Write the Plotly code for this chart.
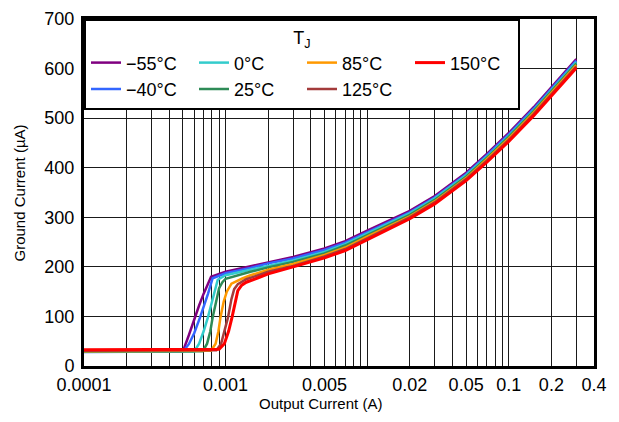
import plotly.graph_objects as go

# ---- data (Output current in A, ground current in uA) ----
x_hi = [0.002, 0.003, 0.005, 0.007, 0.01, 0.02, 0.03, 0.05, 0.07, 0.1, 0.15, 0.2, 0.3]

x_m55 = [0.0001, 0.0003, 0.0005, 0.00055, 0.0006, 0.00065, 0.0007, 0.00079, 0.001, 0.0015]
y_m55 = [29, 29.5, 30, 62, 95, 122, 146, 180, 190, 201]
yh_m55 = [210, 220, 237, 252, 273, 313, 343, 390, 428, 470, 522, 562, 619]

x_m40 = [0.0001, 0.0003, 0.0005, 0.00055, 0.0006, 0.00066, 0.0007, 0.00075, 0.00081, 0.001, 0.0015]
y_m40 = [28, 28.5, 29, 44, 66, 98, 118, 145, 177, 187, 198]
yh_m40 = [207, 217, 234, 249, 270, 310, 340, 387, 425, 467, 519, 559, 616]

x_0 = [0.0001, 0.0003, 0.0006, 0.00065, 0.0007, 0.00075, 0.0008, 0.00085, 0.00088, 0.001, 0.0015]
y_0 = [28.5, 29, 29.5, 45, 70, 98, 130, 160, 174, 183, 194]
yh_0 = [203, 213, 230, 246, 267, 308, 338, 385, 422, 464, 516, 556, 613]

x_25 = [0.0001, 0.0003, 0.00069, 0.00074, 0.00078, 0.00081, 0.00086, 0.0009, 0.00095, 0.001, 0.0015]
y_25 = [29, 29.5, 30, 45, 70, 98, 135, 157, 169, 176, 190]
yh_25 = [199, 210, 227, 243, 264, 305, 335, 382, 420, 462, 514, 554, 610]

x_85 = [0.0001, 0.0003, 0.00079, 0.00085, 0.00089, 0.00092, 0.00097, 0.00102, 0.0011, 0.0013, 0.0015]
y_85 = [30, 30.5, 31, 45, 70, 98, 130, 150, 166, 176, 183]
yh_85 = [194, 206, 224, 239, 261, 302, 332, 379, 417, 459, 511, 551, 607]

x_125 = [0.0001, 0.0003, 0.00086, 0.00093, 0.00098, 0.00104, 0.0011, 0.00115, 0.00122, 0.0014, 0.0017]
y_125 = [31, 31.5, 32, 45, 70, 98, 135, 155, 165, 175, 183]
yh_125 = [190, 202, 221, 236, 258, 300, 330, 377, 414, 456, 508, 548, 604]

x_150 = [0.0001, 0.0003, 0.0009, 0.00098, 0.00105, 0.00111, 0.00117, 0.00122, 0.0013, 0.0014, 0.0017]
y_150 = [33, 33.5, 34, 45, 70, 98, 130, 152, 163, 169, 178]
yh_150 = [186, 200, 218, 233, 255, 297, 327, 374, 411, 453, 505, 545, 601]

names = ["\u221255\u00b0C", "\u221240\u00b0C", "0\u00b0C", "25\u00b0C", "85\u00b0C", "125\u00b0C", "150\u00b0C"]
colors = ["#800080", "#3366FF", "#33CCCC", "#2E8B57", "#FF9900", "#A33B3B", "#FF0000"]
legend_ranks = [1, 5, 2, 6, 3, 7, 4]

x_tickvals = [0.0001, 0.001, 0.005, 0.02, 0.05, 0.1, 0.2, 0.4]
x_ticktext = ["0.0001", "0.001", "0.005", "0.02", "0.05", "0.1", "0.2", "0.4"]
x_minor = [m * d for d in [0.0001, 0.001, 0.01, 0.1] for m in range(1, 10)]
y_tickvals = [0, 100, 200, 300, 400, 500, 600, 700]

series_x = [x_m55, x_m40, x_0, x_25, x_85, x_125, x_150]
series_y = [y_m55 + yh_m55, y_m40 + yh_m40, y_0 + yh_0, y_25 + yh_25,
            y_85 + yh_85, y_125 + yh_125, y_150 + yh_150]

FONT = "Liberation Sans, Arial, Helvetica, sans-serif"

fig = go.Figure()
for xs, ys, nm, c, rk in zip(series_x, series_y, names, colors, legend_ranks):
    fig.add_trace(go.Scatter(
        x=xs + x_hi, y=ys, mode="lines", name=nm,
        line=dict(color=c, width=3 if nm == "150\u00b0C" else 2.5),
        legendrank=rk,
    ))

# The page body has an 8px default margin, so the figure is 8px smaller
# and its margins are reduced by 8px on the left/top.
fig.update_layout(
    width=611, height=414,
    margin=dict(l=76, r=25, t=11, b=56),
    paper_bgcolor="white", plot_bgcolor="white",
    font=dict(family=FONT, size=18, color="black"),
    showlegend=True,
    legend=dict(
        orientation="h", x=0, y=1, xanchor="left", yanchor="top",
        bgcolor="white", bordercolor="black", borderwidth=2,
        font=dict(family=FONT, size=18, color="black"),
        title=dict(text="T<sub>J</sub>", side="top center",
                   font=dict(family=FONT, size=18, color="black")),
        entrywidth=63, entrywidthmode="pixels",
    ),
    xaxis=dict(
        type="log", range=[-4, -0.39794], automargin=False,
        tickmode="array", tickvals=x_tickvals, ticktext=x_ticktext,
        ticklabeloverflow="allow",
        showgrid=True, gridcolor="#1a1a1a", gridwidth=1,
        minor=dict(tickmode="array", tickvals=x_minor, showgrid=True,
                   gridcolor="#1a1a1a", gridwidth=1, ticks=""),
        showline=True, linecolor="black", linewidth=3, mirror=True,
        ticks="", zeroline=False,
        tickfont=dict(family=FONT, size=18, color="black"),
    ),
    yaxis=dict(
        range=[0, 700], tickmode="array", tickvals=y_tickvals, automargin=False,
        ticklabeloverflow="allow",
        showgrid=True, gridcolor="#1a1a1a", gridwidth=1,
        showline=True, linecolor="black", linewidth=3, mirror=True,
        ticks="", zeroline=False, ticklabelstandoff=3,
        tickfont=dict(family=FONT, size=18, color="black"),
    ),
    annotations=[
        dict(text="Output Current (A)", xref="paper", yref="paper",
             x=0.4637, y=-0.108, xanchor="center", yanchor="middle",
             showarrow=False, font=dict(family=FONT, size=15, color="black")),
        dict(text="Ground Current (\u00b5A)", xref="paper", yref="paper",
             x=-0.1255, y=0.5, xanchor="center", yanchor="middle", textangle=-90,
             showarrow=False, font=dict(family=FONT, size=15, color="black")),
    ],
)

fig.write_html("out.html")
